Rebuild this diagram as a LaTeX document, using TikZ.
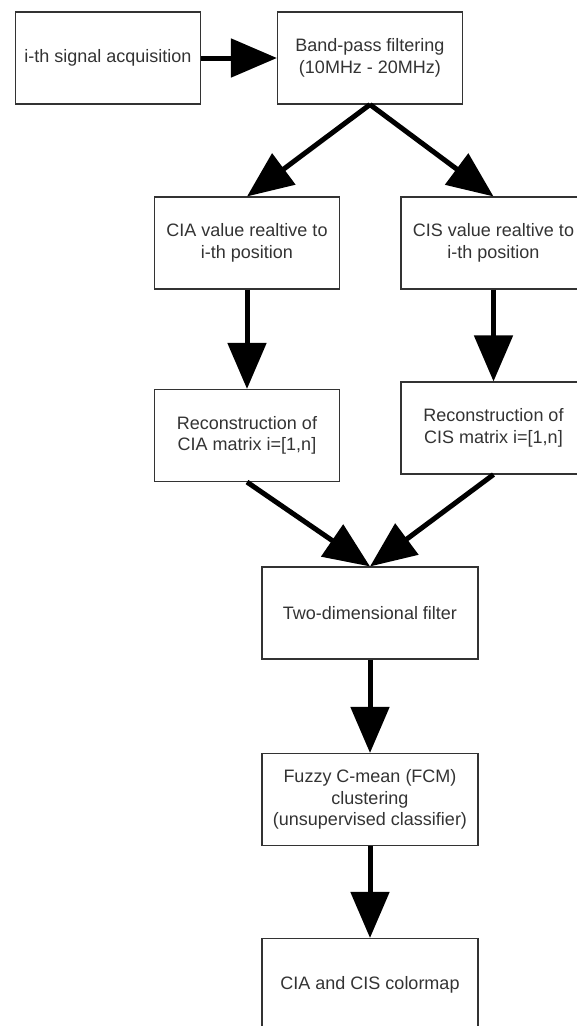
\documentclass[tikz,border=0pt]{standalone}
\usepackage{fontspec}
\setmainfont{Liberation Sans}
\usetikzlibrary{arrows.meta}

\begin{document}
\begin{tikzpicture}[x=1pt,y=-1pt,
        box/.style={draw=black!80, line width=1.1pt, minimum width=185pt, minimum height=92pt, inner sep=0pt, align=center, text=black!80, font=\fontsize{18}{21.5}\selectfont},
        widebox/.style={box, minimum width=216pt},
        flow/.style={line width=5pt, -{Triangle[length=46pt,width=38pt]}}]
        \useasboundingbox (0,0) rectangle (576,1026);
        \node[box] (acq) at (108,58) {i-th signal acquisition};
        \node[box] (band) at (370,58) {Band-pass filtering\\(10MHz - 20MHz)};
        \node[box] (ciaval) at (247,243) {CIA value realtive to\\i-th position};
        \node[box] (cisval) at (493.5,243) {CIS value realtive to\\i-th position};
        \node[box] (ciarec) at (247,435.5) {Reconstruction of\\CIA matrix i=[1,n]};
        \node[box] (cisrec) at (493.5,428) {Reconstruction of\\CIS matrix i=[1,n]};
        \node[widebox] (filt) at (370,613) {Two-dimensional filter};
        \node[widebox] (fcm) at (370,799.5) {Fuzzy C-mean (FCM)\\clustering\\(unsupervised classifier)};
        \node[widebox] (cmap) at (370,984.5) {CIA and CIS colormap};
        \draw[flow] (acq) -- (band);
        \draw[flow] (band.south) -- (ciaval.north);
        \draw[flow] (band.south) -- (cisval.north);
        \draw[flow] (ciaval) -- (ciarec);
        \draw[flow] (cisval) -- (cisrec);
        \draw[flow] (ciarec.south) -- (filt.north);
        \draw[flow] (cisrec.south) -- (filt.north);
        \draw[flow] (filt) -- (fcm);
        \draw[flow] (fcm) -- (cmap);
    \end{tikzpicture}
\end{document}
